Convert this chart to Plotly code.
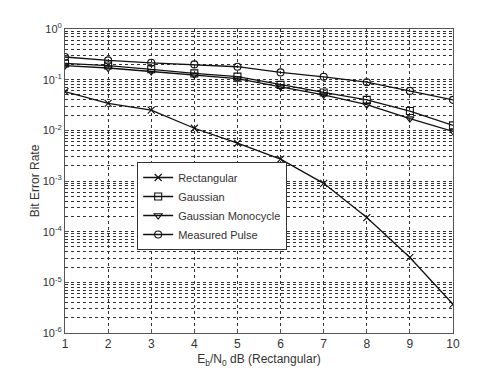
import plotly.graph_objects as go

ebn0 = [1, 2, 3, 4, 5, 6, 7, 8, 9, 10]
rectangular = [0.058, 0.034, 0.025, 0.011, 0.0056, 0.0027, 9.0e-4, 1.9e-4, 3.1e-5, 3.7e-6]
gaussian = [0.21, 0.19, 0.16, 0.133, 0.115, 0.079, 0.056, 0.040, 0.024, 0.0125]
monocycle = [0.19, 0.17, 0.145, 0.125, 0.105, 0.072, 0.050, 0.032, 0.017, 0.0095]
measured = [0.28, 0.24, 0.215, 0.20, 0.18, 0.139, 0.114, 0.089, 0.060, 0.040]

ytick_vals = [1, 1e-1, 1e-2, 1e-3, 1e-4, 1e-5, 1e-6]
ytick_text = ["10<sup>0</sup>", "10<sup>-1</sup>", "10<sup>-2</sup>", "10<sup>-3</sup>",
              "10<sup>-4</sup>", "10<sup>-5</sup>", "10<sup>-6</sup>"]

series = [
    ("Rectangular", rectangular, "x-thin-open"),
    ("Gaussian", gaussian, "square-open"),
    ("Gaussian Monocycle", monocycle, "triangle-down-open"),
    ("Measured Pulse", measured, "circle-open"),
]

fig = go.Figure()
for name, vals, sym in series:
    fig.add_trace(go.Scatter(
        x=ebn0, y=vals, name=name, mode="lines+markers",
        line=dict(color="#111111", width=1.3),
        marker=dict(symbol=sym, size=7, color="#111111",
                    line=dict(color="#111111", width=1.1)),
    ))

fig.update_layout(
    width=500, height=375,
    margin=dict(l=57, r=55, t=21, b=50),
    paper_bgcolor="white", plot_bgcolor="white",
    font=dict(family="Liberation Sans, Arial, sans-serif", size=12, color="#333333"),
    showlegend=True,
    legend=dict(x=0.186, y=0.5625, xanchor="left", yanchor="top",
                bgcolor="white", bordercolor="#333333", borderwidth=1,
                itemwidth=30, tracegroupgap=0,
                font=dict(size=11, color="#333333")),
)
fig.update_xaxes(
    range=[1, 10], dtick=1, showline=True, mirror=True,
    linecolor="#555555", linewidth=1,
    showgrid=True, gridcolor="#333333", griddash="dot", gridwidth=1,
    ticks="inside", ticklen=4, tickcolor="#555555", zeroline=False,
    title=dict(text="E<sub>b</sub>/N<sub>0</sub> dB (Rectangular)", standoff=4,
               font=dict(size=12)),
)
fig.update_yaxes(
    type="log", range=[-6, 0], tickvals=ytick_vals, ticktext=ytick_text,
    tickfont=dict(size=11), automargin=True,
    showline=True, mirror=True, linecolor="#555555", linewidth=1,
    showgrid=True, gridcolor="#333333", griddash="dot", gridwidth=1,
    ticks="inside", ticklen=4, tickcolor="#555555", zeroline=False,
    minor=dict(showgrid=True, gridcolor="#333333", griddash="dot", gridwidth=1,
               tickvals=[m * 10**e for e in range(-6, 0) for m in range(2, 10)]),
    title=dict(text="Bit Error Rate", standoff=0, font=dict(size=12)),
)

fig.write_html("out.html")
